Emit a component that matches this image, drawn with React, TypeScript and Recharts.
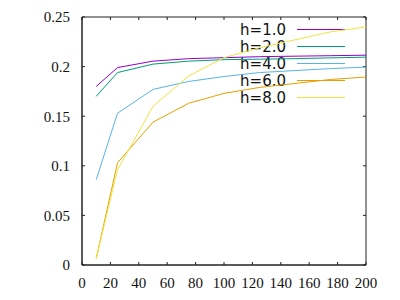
import React from 'react';
import { LineChart, Line, XAxis, YAxis, CartesianGrid } from 'recharts';

const xValues = [10, 25, 50, 75, 100, 125, 150, 175, 200];
const h1 = [0.18, 0.199, 0.2055, 0.208, 0.209, 0.21, 0.2105, 0.211, 0.2115];
const h2 = [0.17, 0.194, 0.2025, 0.2055, 0.207, 0.2075, 0.208, 0.2088, 0.2095];
const h4 = [0.086, 0.153, 0.177, 0.185, 0.19, 0.194, 0.196, 0.198, 0.1995];
const h6 = [0.0065, 0.103, 0.144, 0.163, 0.173, 0.179, 0.183, 0.187, 0.1895];
const h8 = [0.0065, 0.096, 0.16, 0.1905, 0.209, 0.219, 0.227, 0.235, 0.24];

const seriesKeys = ['h1', 'h2', 'h4', 'h6', 'h8'];
const seriesNames = ['h=1.0', 'h=2.0', 'h=4.0', 'h=6.0', 'h=8.0'];
const seriesColors = ['#9400d3', '#009e73', '#56b4e9', '#e69f00', '#f0e442'];

const xTicks = [0, 20, 40, 60, 80, 100, 120, 140, 160, 180, 200];
const yTicks = [0, 0.05, 0.1, 0.15, 0.2, 0.25];
const xMax = 200;
const yMax = 0.25;

const data = xValues.map((x, i) => ({
  x,
  h1: h1[i],
  h2: h2[i],
  h4: h4[i],
  h6: h6[i],
  h8: h8[i],
}));

const font = "'DejaVu Sans', sans-serif";

// chart layout (body keeps its 8px margin)
const W = 392;
const H = 292;
const M = { top: 9, right: 34, bottom: 0, left: 0 };
const Y_AXIS_W = 74;
const X_AXIS_H = 35;
const plotL = M.left + Y_AXIS_W;
const plotT = M.top;
const plotR = W - M.right;
const plotB = H - M.bottom - X_AXIS_H;
const TICK = 3;

const px = (v: number) => plotL + (v / xMax) * (plotR - plotL);
const py = (v: number) => plotB - (v / yMax) * (plotB - plotT);

// mirrored inward ticks on the top and right border
const MirrorTicks = () => (
  <g className="mirror-ticks">
    {xTicks.map((t) => (
      <line key={'x' + t} x1={px(t)} x2={px(t)} y1={plotT} y2={plotT + TICK} stroke="#222" strokeWidth={1} />
    ))}
    {yTicks.map((t) => (
      <line key={'y' + t} x1={plotR} x2={plotR - TICK} y1={py(t)} y2={py(t)} stroke="#222" strokeWidth={1} />
    ))}
  </g>
);

const App = () => {
  return (
    <div style={{ width: W, height: H }}>
      <LineChart width={W} height={H} data={data} margin={M}>
        <CartesianGrid
          stroke="#222"
          horizontalPoints={[plotT, plotB]}
          verticalPoints={[plotL, plotR]}
        />
        <XAxis
          dataKey="x"
          type="number"
          domain={[0, xMax]}
          ticks={xTicks}
          interval={0}
          height={X_AXIS_H}
          tickSize={-3}
          tickMargin={15}
          stroke="#222"
          tick={{ fill: '#111', fontSize: 15 }}
        />
        <YAxis
          type="number"
          domain={[0, yMax]}
          ticks={yTicks}
          interval={0}
          width={Y_AXIS_W}
          tickSize={-3}
          tickMargin={15}
          stroke="#222"
          tick={{ fill: '#111', fontSize: 15 }}
        />
        {seriesKeys.map((k, i) => (
          <Line
            key={k}
            type="linear"
            dataKey={k}
            stroke={seriesColors[i]}
            strokeWidth={1}
            dot={false}
            isAnimationActive={false}
          />
        ))}
        <MirrorTicks />
        <g className="key">
          {seriesNames.map((name, i) => (
            <g key={name}>
              <text x={278} y={21.5 + i * 17 + 5.5} textAnchor="end" fontSize={15} fontFamily={font} fill="#111">
                {name}
              </text>
              <line x1={289} x2={337} y1={21.5 + i * 17} y2={21.5 + i * 17} stroke={seriesColors[i]} strokeWidth={1} />
            </g>
          ))}
        </g>
      </LineChart>
    </div>
  );
};

export default App;
